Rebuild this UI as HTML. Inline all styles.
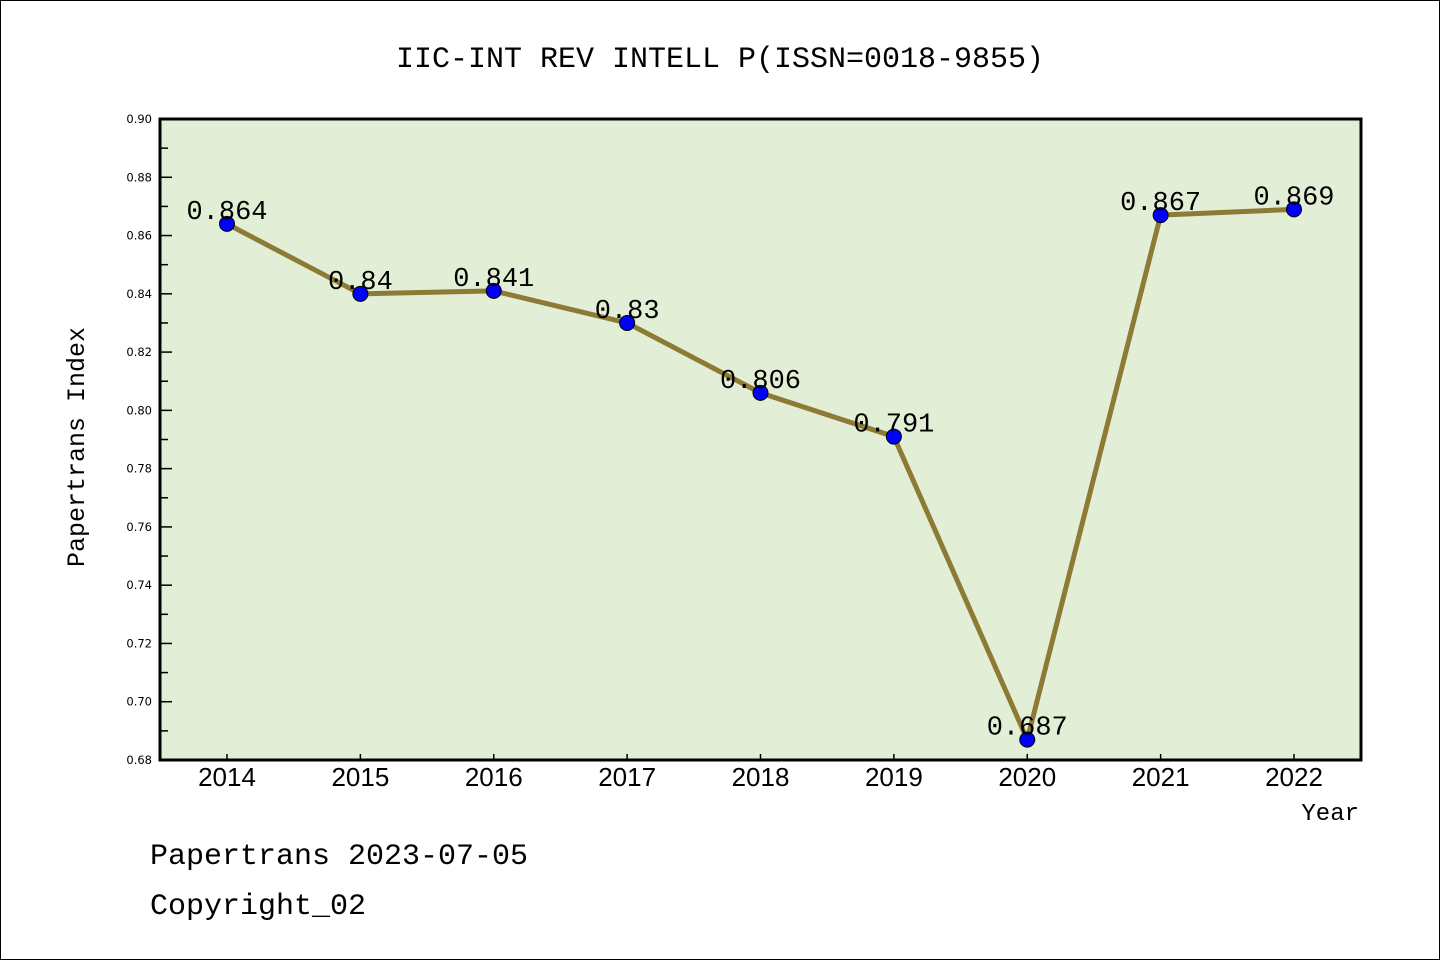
<!DOCTYPE html>
<html><head><meta charset="utf-8"><style>
html,body{margin:0;padding:0;background:#fff;}
body{width:1440px;height:960px;overflow:hidden;}
svg{display:block}
</style></head><body>
<svg id="chart" width="1440" height="960" xmlns="http://www.w3.org/2000/svg">
<rect x="0.5" y="0.5" width="1439" height="959" fill="#fff" stroke="#000" stroke-width="1"/>
<text x="720" y="67" text-anchor="middle" font-family="Liberation Mono, WenQuanYi Zen Hei, monospace" font-size="30">IIC-INT REV INTELL P(ISSN=0018-9855)</text>
<rect x="160" y="119" width="1201" height="641" fill="#e2efd6"/>
<g id="axes"></g>
<g id="series"></g>
<rect x="160" y="119" width="1201" height="641" fill="none" stroke="#000" stroke-width="3"/>
<text transform="translate(84,447) rotate(-90)" text-anchor="middle" font-family="Liberation Mono, WenQuanYi Zen Hei, monospace" font-size="25">Papertrans Index</text>
<text x="1359" y="820" text-anchor="end" font-family="Liberation Mono, WenQuanYi Zen Hei, monospace" font-size="24">Year</text>
<text x="150" y="864" font-family="Liberation Mono, WenQuanYi Zen Hei, monospace" font-size="30">Papertrans 2023-07-05</text>
<text x="150" y="914" font-family="Liberation Mono, WenQuanYi Zen Hei, monospace" font-size="30">Copyright_02</text>
</svg>
<script>
const years = ["2014","2015","2016","2017","2018","2019","2020","2021","2022"];
const values = [0.864,0.84,0.841,0.83,0.806,0.791,0.687,0.867,0.869];
const valueLabels = ["0.864","0.84","0.841","0.83","0.806","0.791","0.687","0.867","0.869"];
const yTicks = [0.68,0.70,0.72,0.74,0.76,0.78,0.80,0.82,0.84,0.86,0.88,0.90];
const yTickLabels = ["0.68","0.70","0.72","0.74","0.76","0.78","0.80","0.82","0.84","0.86","0.88","0.90"];

const NS="http://www.w3.org/2000/svg";
const yMin=0.68,yMax=0.90,plotTop=119,plotBottom=760;
function yPos(v){return plotBottom-(v-yMin)/(yMax-yMin)*(plotBottom-plotTop);}
function xPos(i){return 227+i*(1294-227)/(years.length-1);}
function mk(tag,attrs,parent){const e=document.createElementNS(NS,tag);for(const k in attrs)e.setAttribute(k,attrs[k]);parent.appendChild(e);return e;}
const axes=document.getElementById('axes'),series=document.getElementById('series');

yTicks.forEach((t,i)=>{
  const y=yPos(t);
  const tk=mk('line',{x1:160,x2:172,y1:y,y2:y,stroke:'#000','stroke-width':1.5},axes);
  
  
  const lb=mk('text',{x:152,y:y+4,'text-anchor':'end','font-family':'DejaVu Sans, sans-serif','font-size':11.5},axes);
  lb.textContent=yTickLabels[i];
  
  
  if(i<yTicks.length-1){
    const ym=yPos((t+yTicks[i+1])/2);
    const mt=mk('line',{x1:160,x2:168,y1:ym,y2:ym,stroke:'#000','stroke-width':1.5},axes);
    
    
  }
});
years.forEach((yr,i)=>{
  const x=xPos(i);
  const tk=mk('line',{x1:x,x2:x,y1:760,y2:754,stroke:'#000','stroke-width':1.5},axes);
  
  
  const lb=mk('text',{x:x,y:786,'text-anchor':'middle','font-family':'Liberation Sans, WenQuanYi Zen Hei, sans-serif','font-size':26},axes);
  lb.textContent=yr;
  
  
});
const pts=values.map((v,i)=>xPos(i)+','+yPos(v)).join(' ');
const line=mk('polyline',{points:pts,fill:'none',stroke:'#8c7a35','stroke-width':5,'stroke-linejoin':'round'},series);


values.forEach((v,i)=>{
  const c=mk('circle',{cx:xPos(i),cy:yPos(v),r:7.5,fill:'#0000ff',stroke:'#000','stroke-width':1},series);
  
  
  const t=mk('text',{x:xPos(i),y:yPos(v)-5,'text-anchor':'middle','font-family':'Liberation Mono, WenQuanYi Zen Hei, monospace','font-size':27},series);
  t.textContent=valueLabels[i];
  
  
});
</script>
</body></html>
